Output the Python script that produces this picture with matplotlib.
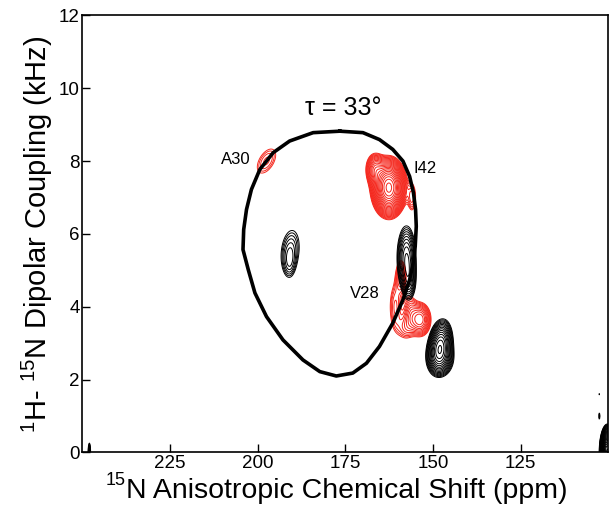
#!/usr/bin/env python3
"""PISEMA spectrum with PISA wheel (tau = 33 deg)."""

import numpy as np
import matplotlib.pyplot as plt

plt.rcParams["font.family"] = ["Liberation Sans", "DejaVu Sans"]
plt.rcParams["mathtext.fontset"] = "custom"
plt.rcParams["mathtext.rm"] = "Liberation Sans"
plt.rcParams["mathtext.it"] = "Liberation Sans:italic"

# Red spectrum peaks: centre (ppm, kHz), height, widths (ppm, kHz), tilt
red_ppm = [197.5, 162.6, 166.6, 156.0, 159.1, 160.8, 153.7, 156.6, 158.0]
red_khz = [8.00, 7.27, 7.78, 7.00, 4.85, 4.00, 3.65, 3.90, 3.40]
red_amp = [1.6, 20.0, 4.0, 1.8, 2.5, 1.8, 4.5, 1.6, 1.4]
red_wppm = [2.7, 2.2, 1.5, 0.9, 1.0, 1.3, 1.8, 1.3, 1.6]
red_wkhz = [0.34, 0.36, 0.25, 0.30, 0.30, 0.50, 0.27, 0.35, 0.25]
red_rho = [-0.5, 0.0, 0.0, 0.0, 0.0, 0.0, 0.0, 0.0, 0.0]

# Black spectrum peaks
blk_ppm = [190.7, 190.9, 157.6, 156.8, 148.0, 147.8, 100.3, 248.0, 102.6, 102.6]
blk_khz = [5.55, 5.15, 5.35, 4.65, 2.95, 2.55, 0.00, 0.00, 1.00, 1.60]
blk_amp = [1.8, 0.8, 3.5, 1.6, 6.0, 2.5, 30.0, 2.0, 1.3, 1.1]
blk_wppm = [2.3, 1.2, 1.7, 1.3, 1.9, 2.4, 0.9, 0.3, 0.2, 0.2]
blk_wkhz = [0.50, 0.30, 0.55, 0.35, 0.38, 0.30, 0.30, 0.22, 0.12, 0.05]
blk_rho = [-0.2, 0.0, 0.0, 0.0, -0.2, 0.0, 0.0, 0.0, 0.0, 0.0]

# PISA wheel trace (ppm, kHz)
wheel_ppm = [176.6, 170.0, 165.3, 161.5, 158.6, 156.7, 155.6, 155.0, 154.8,
             155.1, 155.5, 156.7, 158.6, 161.5, 165.3, 169.0, 172.9, 177.6,
             182.3, 187.1, 192.8, 197.5, 200.8, 202.7, 204.2, 204.0, 203.2,
             201.8, 199.4, 195.6, 190.9, 184.2, 176.6]
wheel_khz = [8.82, 8.78, 8.59, 8.32, 8.00, 7.58, 7.13, 6.67, 6.21, 5.66,
             5.29, 4.74, 4.19, 3.55, 2.91, 2.45, 2.18, 2.10, 2.22, 2.54,
             3.09, 3.73, 4.38, 5.02, 5.57, 6.12, 6.67, 7.22, 7.77, 8.23,
             8.55, 8.78, 8.82]

labels = ["A30", "I42", "V28"]
label_ppm = [206.2, 152.4, 169.6]
label_khz = [8.03, 7.80, 4.36]

x_ticks = [225, 200, 175, 150, 125]
y_ticks = [0, 2, 4, 6, 8, 10, 12]


def spectrum(X, Y, ppm, khz, amp, wp, wk, rho):
    Z = np.zeros_like(X)
    for x0, y0, a, sx, sy, r in zip(ppm, khz, amp, wp, wk, rho):
        dx = (X - x0) / sx
        dy = (Y - y0) / sy
        q = (dx ** 2 - 2 * r * dx * dy + dy ** 2) / (1 - r ** 2)
        Z += a * np.exp(-0.5 * q)
    return Z


X, Y = np.meshgrid(np.linspace(99, 251, 1000), np.linspace(-0.5, 12, 800))
Z_red = spectrum(X, Y, red_ppm, red_khz, red_amp, red_wppm, red_wkhz, red_rho)
Z_blk = spectrum(X, Y, blk_ppm, blk_khz, blk_amp, blk_wppm, blk_wkhz, blk_rho)
levels = 1.0 * 1.15 ** np.arange(32)

fig = plt.figure(figsize=(6.1, 5.05), dpi=100)
ax = fig.add_axes([0.135, 0.104, 0.8625, 0.8656])

ax.contour(X, Y, Z_red, levels=levels, colors="#f5281e", linewidths=0.7)
ax.contour(X, Y, Z_blk, levels=levels, colors="black", linewidths=0.7)
ax.plot(wheel_ppm, wheel_khz, color="black", lw=2.6, solid_joinstyle="round")

ax.text(175.6, 9.47, "τ = 33°", fontsize=18, ha="center", va="center")
for name, px, py in zip(labels, label_ppm, label_khz):
    ax.text(px, py, name, fontsize=12, ha="center", va="center")

ax.set_xlim(250, 100)
ax.set_ylim(0, 12)
ax.set_xticks(x_ticks)
ax.set_yticks(y_ticks)
ax.tick_params(direction="in", length=6, width=1, labelsize=13.5, pad=2)
for s in ax.spines.values():
    s.set_linewidth(1.2)

# x label built from two texts so the superscript sits tight
xlab = fig.text(0.568, 0.014, "N Anisotropic Chemical Shift (ppm)",
                fontsize=20.5, ha="center", va="baseline")
fig.canvas.draw()
bb = xlab.get_window_extent()
fig.text(bb.x0 / fig.bbox.width, 0.014 + 13 / fig.bbox.height, "15",
         fontsize=13, ha="right", va="baseline")
ax.set_ylabel(r"$^{1}$H- $^{15}$N Dipolar Coupling (kHz)", fontsize=21, labelpad=3)

plt.savefig("out.png", dpi=100, facecolor="white")
